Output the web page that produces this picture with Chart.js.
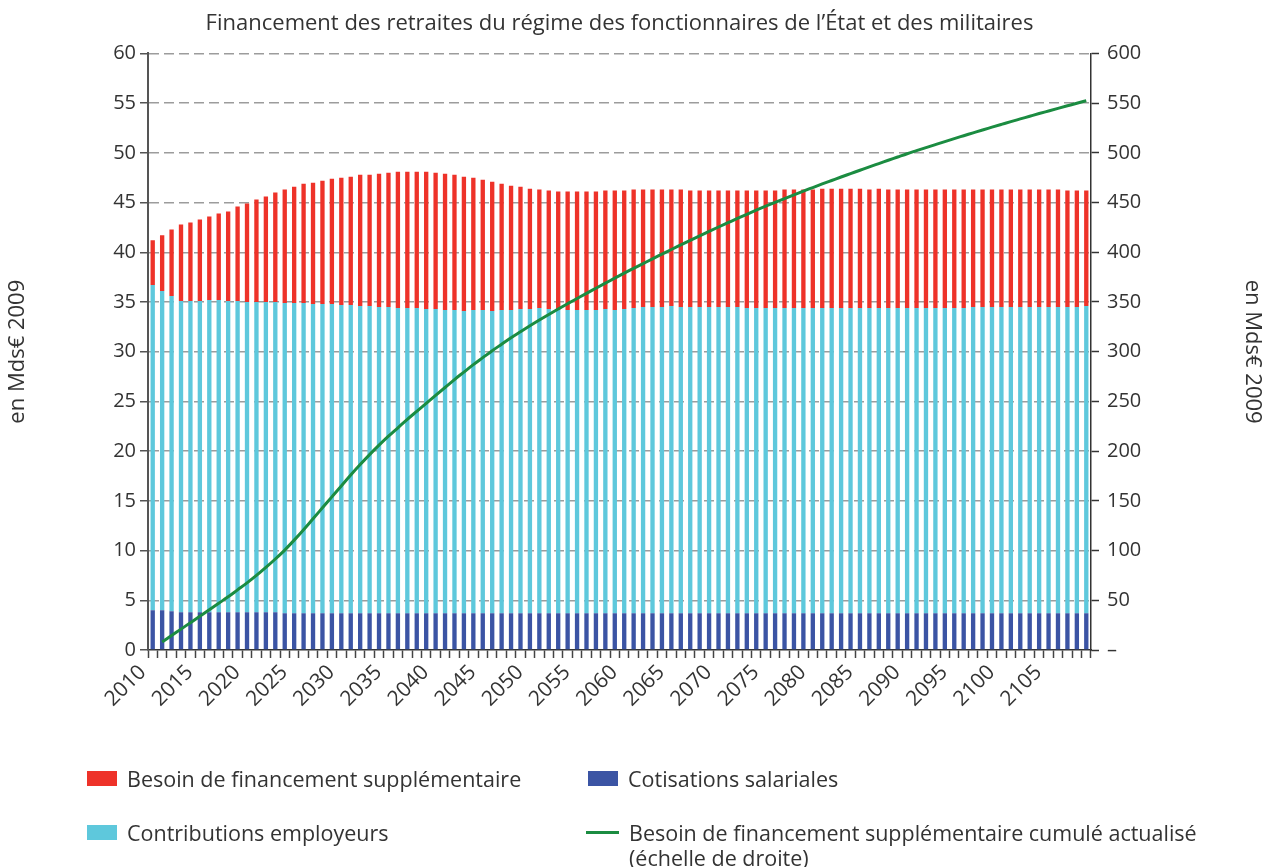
<!DOCTYPE html>
<html>
<head>
<meta charset="utf-8">
<script src="https://cdn.jsdelivr.net/npm/chart.js@4.4.1/dist/chart.umd.min.js"></script>
<style>
  body { margin: 0; background: #fff; }
  #wrap { position: relative; width: 1266px; height: 867px; font-family: "Open Sans", sans-serif; color: #333; }
  #chart { position: absolute; left: 0; top: 0; }
  .leg { position: absolute; font-size: 21.5px; line-height: 25px; white-space: nowrap; }
  .leg .sw { position: absolute; left: 0; top: 5px; width: 30px; height: 15px; }
  .leg .ln { position: absolute; left: 0; top: 11px; width: 33px; height: 3px; }
  .leg .tx { position: absolute; left: 40px; top: 0; }
</style>
</head>
<body>
<div id="wrap">
  <canvas id="chart" width="1266" height="867"></canvas>
  <div id="legend"></div>
</div>
<script>
// years 2010 - 2109
var years = [];
for (var y = 2010; y <= 2109; y++) years.push(String(y));

// Cotisations salariales (Mds€ 2009)
var cotisations = [
  4.0, 4.0, 3.9, 3.8, 3.8, 3.8, 3.8, 3.8, 3.8, 3.8,
  3.8, 3.8, 3.8, 3.8, 3.7, 3.7, 3.7, 3.7, 3.7, 3.7,
  3.7, 3.7, 3.7, 3.7, 3.7, 3.7, 3.7, 3.7, 3.7, 3.7,
  3.7, 3.7, 3.7, 3.7, 3.7, 3.7, 3.7, 3.7, 3.7, 3.7,
  3.7, 3.7, 3.7, 3.7, 3.7, 3.7, 3.7, 3.7, 3.7, 3.7,
  3.7, 3.7, 3.7, 3.7, 3.7, 3.7, 3.7, 3.7, 3.7, 3.7,
  3.7, 3.7, 3.7, 3.7, 3.7, 3.7, 3.7, 3.7, 3.7, 3.7,
  3.7, 3.7, 3.7, 3.7, 3.7, 3.7, 3.7, 3.7, 3.7, 3.7,
  3.7, 3.7, 3.7, 3.7, 3.7, 3.7, 3.7, 3.7, 3.7, 3.7,
  3.7, 3.7, 3.7, 3.7, 3.7, 3.7, 3.7, 3.7, 3.7, 3.7
];

// Contributions employeurs
var contributions = [
  32.7, 32.1, 31.7, 31.3, 31.3, 31.3, 31.4, 31.4, 31.3, 31.3,
  31.2, 31.2, 31.2, 31.2, 31.2, 31.2, 31.2, 31.1, 31.1, 31.1,
  31.0, 31.0, 30.9, 30.9, 30.8, 30.8, 30.7, 30.7, 30.7, 30.6,
  30.6, 30.5, 30.5, 30.4, 30.5, 30.5, 30.4, 30.5, 30.5, 30.6,
  30.6, 30.7, 30.6, 30.5, 30.5, 30.5, 30.5, 30.5, 30.6, 30.5,
  30.6, 30.7, 30.8, 30.8, 30.8, 30.9, 30.8, 30.8, 30.8, 30.8,
  30.8, 30.8, 30.8, 30.7, 30.7, 30.7, 30.7, 30.7, 30.7, 30.7,
  30.7, 30.7, 30.7, 30.7, 30.7, 30.7, 30.7, 30.7, 30.7, 30.7,
  30.7, 30.7, 30.7, 30.7, 30.7, 30.7, 30.7, 30.8, 30.8, 30.8,
  30.8, 30.8, 30.8, 30.8, 30.8, 30.8, 30.8, 30.8, 30.8, 30.9
];

// Besoin de financement supplementaire
var besoin = [
  4.5, 5.6, 6.7, 7.7, 7.9, 8.2, 8.4, 8.7, 9.0, 9.5,
  9.9, 10.3, 10.6, 11.0, 11.4, 11.7, 12.0, 12.2, 12.4, 12.6,
  12.8, 12.9, 13.2, 13.2, 13.4, 13.5, 13.7, 13.7, 13.7, 13.8,
  13.7, 13.7, 13.6, 13.5, 13.3, 13.1, 13.0, 12.7, 12.5, 12.3,
  12.1, 11.9, 11.9, 11.9, 11.9, 11.9, 11.9, 11.9, 11.9, 12.0,
  11.9, 11.9, 11.8, 11.8, 11.8, 11.7, 11.8, 11.7, 11.7, 11.7,
  11.7, 11.7, 11.7, 11.8, 11.8, 11.8, 11.8, 11.9, 11.9, 11.9,
  11.9, 12.0, 12.0, 12.0, 12.0, 12.0, 11.9, 12.0, 11.9, 11.9,
  11.9, 11.9, 11.9, 11.9, 11.9, 11.9, 11.9, 11.8, 11.8, 11.8,
  11.8, 11.8, 11.8, 11.8, 11.8, 11.8, 11.8, 11.7, 11.7, 11.6
];

// Besoin cumulé actualisé (échelle de droite)
var cumul = [
  null, 8, 14.5, 21, 27.5, 34, 40.5, 47, 53.5, 60.5,
  67.5, 75, 83, 91.5, 100.5, 110.5, 121, 132, 143, 154,
  165, 176, 186.5, 196.5, 206, 215, 223.5, 232, 240, 248,
  256, 264, 272, 279.5, 287, 294, 301, 307.5, 314, 320,
  326, 331.8, 337.5, 343, 348.3, 353.5, 358.7, 363.8, 368.9, 374,
  379, 383.8, 388.6, 393.4, 398.1, 402.8, 407.4, 412, 416.5, 421,
  425.4, 429.7, 434, 438.2, 442.3, 446.3, 450.2, 454, 457.8, 461.5,
  465.1, 468.7, 472.2, 475.7, 479.1, 482.5, 485.9, 489.2, 492.5, 495.8,
  499.1, 502.2, 505.3, 508.3, 511.3, 514.3, 517.2, 520.1, 523.0, 525.8,
  528.6, 531.4, 534.1, 536.8, 539.5, 542.1, 544.7, 547.3, 549.9, 552.4
];

var RED = '#ee3229', CYAN = '#5ec8dc', BLUE = '#3b54a4', GREEN = '#1b8c41';
var family = '"Open Sans", sans-serif';
var tickFont = { family: family, size: 20 };
var labelFont = { family: family, size: 21 };
Chart.defaults.color = '#333';

var chart = new Chart(document.getElementById('chart'), {
  type: 'bar',
  data: {
    labels: years,
    datasets: [
      { label: 'Besoin de financement supplémentaire cumulé actualisé\n(échelle de droite)',
        type: 'line', data: cumul, yAxisID: 'y1', borderColor: GREEN, backgroundColor: GREEN,
        borderWidth: 3, pointRadius: 0, cubicInterpolationMode: 'monotone', order: 0 },
      { label: 'Cotisations salariales', data: cotisations, backgroundColor: BLUE, order: 1 },
      { label: 'Contributions employeurs', data: contributions, backgroundColor: CYAN, order: 1 },
      { label: 'Besoin de financement supplémentaire', data: besoin, backgroundColor: RED, order: 1 }
    ]
  },
  options: {
    responsive: false,
    animation: false,
    layout: { padding: 0 },
    datasets: { bar: { categoryPercentage: 1, barPercentage: 0.46 } },
    plugins: {
      legend: { display: false },
      tooltip: { enabled: false },
      title: {
        display: true, fullSize: false,
        text: 'Financement des retraites du régime des fonctionnaires de l\u2019État et des militaires',
        font: { family: family, size: 22, weight: 'normal' },
        color: '#333', padding: { top: 11, bottom: 16 }
      }
    },
    scales: {
      x: {
        stacked: true,
        grid: { drawOnChartArea: false, drawTicks: true, tickLength: 8, tickColor: '#444', tickWidth: 1.5 },
        border: { color: '#333', width: 1.5 },
        ticks: {
          autoSkip: false, maxRotation: 45, minRotation: 45, font: labelFont, padding: 2, labelOffset: -10,
          callback: function(v, i) { return i % 5 === 0 ? years[i] : ''; }
        },
        afterFit: function(s) { s.height = 217; }
      },
      y: {
        stacked: true, position: 'left', min: 0, max: 60,
        ticks: { stepSize: 5, font: tickFont, padding: 4 },
        grid: {
          color: function(c) { return c.tick.value === 0 ? 'rgba(0,0,0,0)' : '#9c9c9c'; },
          lineWidth: 1.5, tickLength: 8, tickColor: '#555', tickWidth: 1.5
        },
        border: { color: '#555', width: 2, dash: [10, 5] },
        title: { display: true, text: 'en Mds€ 2009', font: { family: family, size: 22 }, padding: 5 },
        afterFit: function(s) { s.width = 148; }
      },
      y1: {
        position: 'right', min: 0, max: 600,
        ticks: {
          stepSize: 50, font: tickFont, padding: 8,
          callback: function(v) { return v === 0 ? '\u2013' : v; }
        },
        grid: { drawOnChartArea: false, tickLength: 8, tickColor: '#333', tickWidth: 1.5 },
        border: { color: '#333', width: 1.5 },
        title: { display: true, text: 'en Mds€ 2009', font: { family: family, size: 22 }, padding: 1 },
        afterFit: function(s) { s.width = 175; }
      }
    }
  }
});

// legend, two columns like the original
var ds = chart.data.datasets;
var legendItems = [
  { d: ds[3], left: 87, top: 766, line: false },
  { d: ds[1], left: 588, top: 766, line: false },
  { d: ds[2], left: 87, top: 820, line: false },
  { d: ds[0], left: 586, top: 820, line: true }
];
var html = '';
legendItems.forEach(function(it) {
  var mark = it.line
    ? '<span class="ln" style="background:' + it.d.borderColor + '"></span>'
    : '<span class="sw" style="background:' + it.d.backgroundColor + '"></span>';
  html += '<div class="leg" style="left:' + it.left + 'px;top:' + it.top + 'px">' + mark +
    '<span class="tx"' + (it.line ? ' style="left:43px"' : '') + '>' + it.d.label.replace('\n', '<br>') + '</span></div>';
});
document.getElementById('legend').innerHTML = html;
</script>
</body>
</html>
